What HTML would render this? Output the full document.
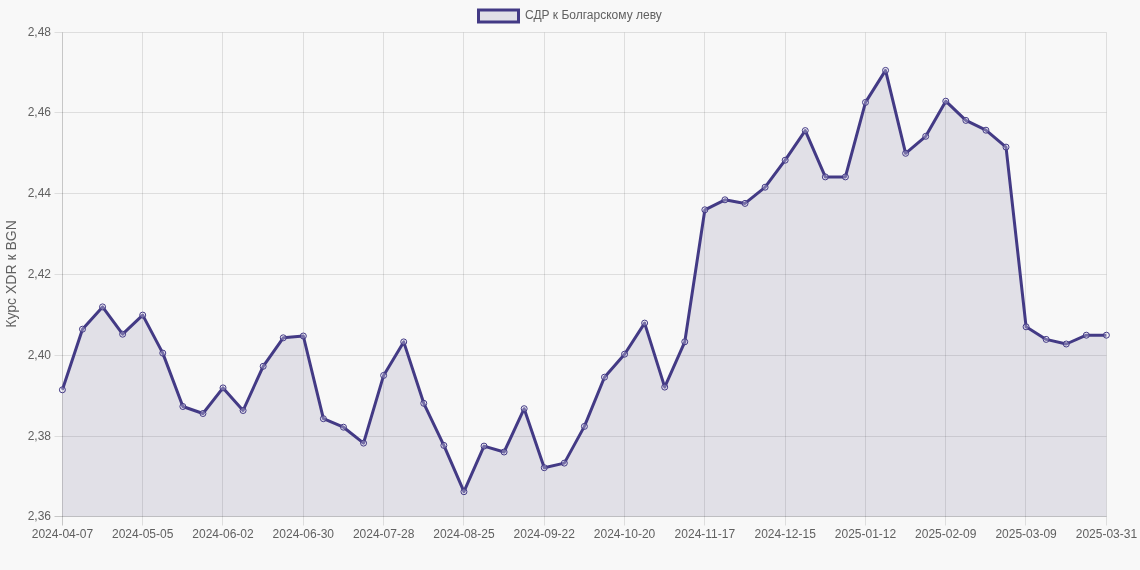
<!DOCTYPE html>
<html><head><meta charset="utf-8"><style>
html,body{margin:0;padding:0;background:#f8f8f8;}
svg{display:block;will-change:transform;}
text{font-family:"Liberation Sans",sans-serif;font-size:12px;fill:#606060;}
</style></head><body>
<svg width="1140" height="570" viewBox="0 0 1140 570">
<rect width="1140" height="570" fill="#f8f8f8"/>
<line x1="54.5" y1="32.50" x2="1106.5" y2="32.50" stroke="rgba(0,0,0,0.1)" stroke-width="1"/><text x="51" y="35.50" text-anchor="end">2,48</text><line x1="54.5" y1="112.50" x2="1106.5" y2="112.50" stroke="rgba(0,0,0,0.1)" stroke-width="1"/><text x="51" y="116.30" text-anchor="end">2,46</text><line x1="54.5" y1="193.50" x2="1106.5" y2="193.50" stroke="rgba(0,0,0,0.1)" stroke-width="1"/><text x="51" y="197.10" text-anchor="end">2,44</text><line x1="54.5" y1="274.50" x2="1106.5" y2="274.50" stroke="rgba(0,0,0,0.1)" stroke-width="1"/><text x="51" y="277.90" text-anchor="end">2,42</text><line x1="54.5" y1="355.50" x2="1106.5" y2="355.50" stroke="rgba(0,0,0,0.1)" stroke-width="1"/><text x="51" y="358.70" text-anchor="end">2,40</text><line x1="54.5" y1="436.50" x2="1106.5" y2="436.50" stroke="rgba(0,0,0,0.1)" stroke-width="1"/><text x="51" y="439.50" text-anchor="end">2,38</text><line x1="54.5" y1="516.50" x2="1106.5" y2="516.50" stroke="rgba(0,0,0,0.1)" stroke-width="1"/><text x="51" y="520.30" text-anchor="end">2,36</text><line x1="62.50" y1="32.5" x2="62.50" y2="525.5" stroke="rgba(0,0,0,0.1)" stroke-width="1"/><text x="62.40" y="538" text-anchor="middle">2024-04-07</text><line x1="142.50" y1="32.5" x2="142.50" y2="525.5" stroke="rgba(0,0,0,0.1)" stroke-width="1"/><text x="142.71" y="538" text-anchor="middle">2024-05-05</text><line x1="222.50" y1="32.5" x2="222.50" y2="525.5" stroke="rgba(0,0,0,0.1)" stroke-width="1"/><text x="223.02" y="538" text-anchor="middle">2024-06-02</text><line x1="303.50" y1="32.5" x2="303.50" y2="525.5" stroke="rgba(0,0,0,0.1)" stroke-width="1"/><text x="303.32" y="538" text-anchor="middle">2024-06-30</text><line x1="383.50" y1="32.5" x2="383.50" y2="525.5" stroke="rgba(0,0,0,0.1)" stroke-width="1"/><text x="383.63" y="538" text-anchor="middle">2024-07-28</text><line x1="463.50" y1="32.5" x2="463.50" y2="525.5" stroke="rgba(0,0,0,0.1)" stroke-width="1"/><text x="463.94" y="538" text-anchor="middle">2024-08-25</text><line x1="544.50" y1="32.5" x2="544.50" y2="525.5" stroke="rgba(0,0,0,0.1)" stroke-width="1"/><text x="544.25" y="538" text-anchor="middle">2024-09-22</text><line x1="624.50" y1="32.5" x2="624.50" y2="525.5" stroke="rgba(0,0,0,0.1)" stroke-width="1"/><text x="624.55" y="538" text-anchor="middle">2024-10-20</text><line x1="704.50" y1="32.5" x2="704.50" y2="525.5" stroke="rgba(0,0,0,0.1)" stroke-width="1"/><text x="704.86" y="538" text-anchor="middle">2024-11-17</text><line x1="785.50" y1="32.5" x2="785.50" y2="525.5" stroke="rgba(0,0,0,0.1)" stroke-width="1"/><text x="785.17" y="538" text-anchor="middle">2024-12-15</text><line x1="865.50" y1="32.5" x2="865.50" y2="525.5" stroke="rgba(0,0,0,0.1)" stroke-width="1"/><text x="865.48" y="538" text-anchor="middle">2025-01-12</text><line x1="945.50" y1="32.5" x2="945.50" y2="525.5" stroke="rgba(0,0,0,0.1)" stroke-width="1"/><text x="945.78" y="538" text-anchor="middle">2025-02-09</text><line x1="1025.50" y1="32.5" x2="1025.50" y2="525.5" stroke="rgba(0,0,0,0.1)" stroke-width="1"/><text x="1026.09" y="538" text-anchor="middle">2025-03-09</text><line x1="1106.50" y1="32.5" x2="1106.50" y2="525.5" stroke="rgba(0,0,0,0.1)" stroke-width="1"/><text x="1106.40" y="538" text-anchor="middle">2025-03-31</text><line x1="62.5" y1="32.5" x2="62.5" y2="525.5" stroke="rgba(0,0,0,0.1)" stroke-width="1"/><line x1="54.5" y1="516.5" x2="1106.5" y2="516.5" stroke="rgba(0,0,0,0.1)" stroke-width="1"/>
<path d="M62.40,516.5 L62.40,389.80 L82.48,329.20 L102.55,306.90 L122.63,334.20 L142.71,315.10 L162.78,353.10 L182.86,406.50 L202.94,413.50 L223.02,387.90 L243.09,410.50 L263.17,366.30 L283.25,337.80 L303.32,336.00 L323.40,418.70 L343.48,427.20 L363.55,443.10 L383.63,375.40 L403.71,341.90 L423.78,403.30 L443.86,445.40 L463.94,491.70 L484.02,446.10 L504.09,452.00 L524.17,408.70 L544.25,467.70 L564.32,463.10 L584.40,426.40 L604.48,377.20 L624.55,354.20 L644.63,323.10 L664.71,387.10 L684.78,341.80 L704.86,209.80 L724.94,199.80 L745.02,203.40 L765.09,187.20 L785.17,160.20 L805.25,130.60 L825.32,176.90 L845.40,176.90 L865.48,102.40 L885.55,70.40 L905.63,153.30 L925.71,136.30 L945.78,101.20 L965.86,120.40 L985.94,130.20 L1006.02,147.10 L1026.09,326.80 L1046.17,339.40 L1066.25,344.00 L1086.32,335.20 L1106.40,335.20 L1106.40,516.5 Z" fill="rgba(71,63,117,0.13)"/>
<polyline points="62.40,389.80 82.48,329.20 102.55,306.90 122.63,334.20 142.71,315.10 162.78,353.10 182.86,406.50 202.94,413.50 223.02,387.90 243.09,410.50 263.17,366.30 283.25,337.80 303.32,336.00 323.40,418.70 343.48,427.20 363.55,443.10 383.63,375.40 403.71,341.90 423.78,403.30 443.86,445.40 463.94,491.70 484.02,446.10 504.09,452.00 524.17,408.70 544.25,467.70 564.32,463.10 584.40,426.40 604.48,377.20 624.55,354.20 644.63,323.10 664.71,387.10 684.78,341.80 704.86,209.80 724.94,199.80 745.02,203.40 765.09,187.20 785.17,160.20 805.25,130.60 825.32,176.90 845.40,176.90 865.48,102.40 885.55,70.40 905.63,153.30 925.71,136.30 945.78,101.20 965.86,120.40 985.94,130.20 1006.02,147.10 1026.09,326.80 1046.17,339.40 1066.25,344.00 1086.32,335.20 1106.40,335.20" fill="none" stroke="#433a85" stroke-width="3" stroke-linejoin="round"/>
<circle cx="62.40" cy="389.80" r="3" fill="rgba(235,232,250,0.3)" stroke="#433a85" stroke-width="1"/><circle cx="82.48" cy="329.20" r="3" fill="rgba(235,232,250,0.3)" stroke="#433a85" stroke-width="1"/><circle cx="102.55" cy="306.90" r="3" fill="rgba(235,232,250,0.3)" stroke="#433a85" stroke-width="1"/><circle cx="122.63" cy="334.20" r="3" fill="rgba(235,232,250,0.3)" stroke="#433a85" stroke-width="1"/><circle cx="142.71" cy="315.10" r="3" fill="rgba(235,232,250,0.3)" stroke="#433a85" stroke-width="1"/><circle cx="162.78" cy="353.10" r="3" fill="rgba(235,232,250,0.3)" stroke="#433a85" stroke-width="1"/><circle cx="182.86" cy="406.50" r="3" fill="rgba(235,232,250,0.3)" stroke="#433a85" stroke-width="1"/><circle cx="202.94" cy="413.50" r="3" fill="rgba(235,232,250,0.3)" stroke="#433a85" stroke-width="1"/><circle cx="223.02" cy="387.90" r="3" fill="rgba(235,232,250,0.3)" stroke="#433a85" stroke-width="1"/><circle cx="243.09" cy="410.50" r="3" fill="rgba(235,232,250,0.3)" stroke="#433a85" stroke-width="1"/><circle cx="263.17" cy="366.30" r="3" fill="rgba(235,232,250,0.3)" stroke="#433a85" stroke-width="1"/><circle cx="283.25" cy="337.80" r="3" fill="rgba(235,232,250,0.3)" stroke="#433a85" stroke-width="1"/><circle cx="303.32" cy="336.00" r="3" fill="rgba(235,232,250,0.3)" stroke="#433a85" stroke-width="1"/><circle cx="323.40" cy="418.70" r="3" fill="rgba(235,232,250,0.3)" stroke="#433a85" stroke-width="1"/><circle cx="343.48" cy="427.20" r="3" fill="rgba(235,232,250,0.3)" stroke="#433a85" stroke-width="1"/><circle cx="363.55" cy="443.10" r="3" fill="rgba(235,232,250,0.3)" stroke="#433a85" stroke-width="1"/><circle cx="383.63" cy="375.40" r="3" fill="rgba(235,232,250,0.3)" stroke="#433a85" stroke-width="1"/><circle cx="403.71" cy="341.90" r="3" fill="rgba(235,232,250,0.3)" stroke="#433a85" stroke-width="1"/><circle cx="423.78" cy="403.30" r="3" fill="rgba(235,232,250,0.3)" stroke="#433a85" stroke-width="1"/><circle cx="443.86" cy="445.40" r="3" fill="rgba(235,232,250,0.3)" stroke="#433a85" stroke-width="1"/><circle cx="463.94" cy="491.70" r="3" fill="rgba(235,232,250,0.3)" stroke="#433a85" stroke-width="1"/><circle cx="484.02" cy="446.10" r="3" fill="rgba(235,232,250,0.3)" stroke="#433a85" stroke-width="1"/><circle cx="504.09" cy="452.00" r="3" fill="rgba(235,232,250,0.3)" stroke="#433a85" stroke-width="1"/><circle cx="524.17" cy="408.70" r="3" fill="rgba(235,232,250,0.3)" stroke="#433a85" stroke-width="1"/><circle cx="544.25" cy="467.70" r="3" fill="rgba(235,232,250,0.3)" stroke="#433a85" stroke-width="1"/><circle cx="564.32" cy="463.10" r="3" fill="rgba(235,232,250,0.3)" stroke="#433a85" stroke-width="1"/><circle cx="584.40" cy="426.40" r="3" fill="rgba(235,232,250,0.3)" stroke="#433a85" stroke-width="1"/><circle cx="604.48" cy="377.20" r="3" fill="rgba(235,232,250,0.3)" stroke="#433a85" stroke-width="1"/><circle cx="624.55" cy="354.20" r="3" fill="rgba(235,232,250,0.3)" stroke="#433a85" stroke-width="1"/><circle cx="644.63" cy="323.10" r="3" fill="rgba(235,232,250,0.3)" stroke="#433a85" stroke-width="1"/><circle cx="664.71" cy="387.10" r="3" fill="rgba(235,232,250,0.3)" stroke="#433a85" stroke-width="1"/><circle cx="684.78" cy="341.80" r="3" fill="rgba(235,232,250,0.3)" stroke="#433a85" stroke-width="1"/><circle cx="704.86" cy="209.80" r="3" fill="rgba(235,232,250,0.3)" stroke="#433a85" stroke-width="1"/><circle cx="724.94" cy="199.80" r="3" fill="rgba(235,232,250,0.3)" stroke="#433a85" stroke-width="1"/><circle cx="745.02" cy="203.40" r="3" fill="rgba(235,232,250,0.3)" stroke="#433a85" stroke-width="1"/><circle cx="765.09" cy="187.20" r="3" fill="rgba(235,232,250,0.3)" stroke="#433a85" stroke-width="1"/><circle cx="785.17" cy="160.20" r="3" fill="rgba(235,232,250,0.3)" stroke="#433a85" stroke-width="1"/><circle cx="805.25" cy="130.60" r="3" fill="rgba(235,232,250,0.3)" stroke="#433a85" stroke-width="1"/><circle cx="825.32" cy="176.90" r="3" fill="rgba(235,232,250,0.3)" stroke="#433a85" stroke-width="1"/><circle cx="845.40" cy="176.90" r="3" fill="rgba(235,232,250,0.3)" stroke="#433a85" stroke-width="1"/><circle cx="865.48" cy="102.40" r="3" fill="rgba(235,232,250,0.3)" stroke="#433a85" stroke-width="1"/><circle cx="885.55" cy="70.40" r="3" fill="rgba(235,232,250,0.3)" stroke="#433a85" stroke-width="1"/><circle cx="905.63" cy="153.30" r="3" fill="rgba(235,232,250,0.3)" stroke="#433a85" stroke-width="1"/><circle cx="925.71" cy="136.30" r="3" fill="rgba(235,232,250,0.3)" stroke="#433a85" stroke-width="1"/><circle cx="945.78" cy="101.20" r="3" fill="rgba(235,232,250,0.3)" stroke="#433a85" stroke-width="1"/><circle cx="965.86" cy="120.40" r="3" fill="rgba(235,232,250,0.3)" stroke="#433a85" stroke-width="1"/><circle cx="985.94" cy="130.20" r="3" fill="rgba(235,232,250,0.3)" stroke="#433a85" stroke-width="1"/><circle cx="1006.02" cy="147.10" r="3" fill="rgba(235,232,250,0.3)" stroke="#433a85" stroke-width="1"/><circle cx="1026.09" cy="326.80" r="3" fill="rgba(235,232,250,0.3)" stroke="#433a85" stroke-width="1"/><circle cx="1046.17" cy="339.40" r="3" fill="rgba(235,232,250,0.3)" stroke="#433a85" stroke-width="1"/><circle cx="1066.25" cy="344.00" r="3" fill="rgba(235,232,250,0.3)" stroke="#433a85" stroke-width="1"/><circle cx="1086.32" cy="335.20" r="3" fill="rgba(235,232,250,0.3)" stroke="#433a85" stroke-width="1"/><circle cx="1106.40" cy="335.20" r="3" fill="rgba(235,232,250,0.3)" stroke="#433a85" stroke-width="1"/>
<rect x="478.5" y="10" width="40" height="12" fill="rgba(71,63,117,0.13)" stroke="#433a85" stroke-width="3"/><text x="525" y="19.1">СДР к Болгарскому леву</text>
<text transform="translate(15.8,274) rotate(-90)" text-anchor="middle" style="font-size:14px">Курс XDR к BGN</text>
</svg>
</body></html>
